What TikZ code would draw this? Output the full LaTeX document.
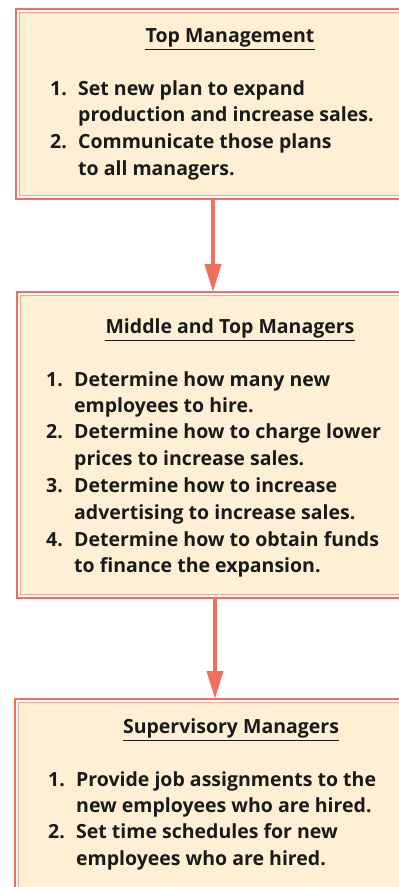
\documentclass[tikz,border=0pt]{standalone}
\usepackage{fontspec}
\setmainfont{Open Sans}
\usetikzlibrary{arrows.meta}
\definecolor{salmon}{HTML}{F07060}
\definecolor{salmonlt}{HTML}{F5A595}
\definecolor{cream}{HTML}{FFEFD5}
\definecolor{ink}{HTML}{1A1A1A}
\tikzset{
  outerbox/.style={draw=salmon, line width=2pt, fill=white, inner sep=0pt, anchor=north west},
  innerframe/.style={draw=salmonlt, line width=1.6pt, fill=cream},
  head/.style={font=\bfseries\fontsize{19.5}{21}\selectfont, text=ink, inner sep=0pt, anchor=base},
  txt/.style={font=\bfseries\fontsize{19.5}{21}\selectfont, text=ink, inner sep=0pt, anchor=base west},
  ul/.style={draw=ink, line width=1.8pt},
  arr/.style={draw=salmon, line width=4pt, -{Triangle[length=28pt, width=16pt]}, shorten >=-1pt},
}
\begin{document}
\begin{tikzpicture}[x=1pt, y=-1pt]
\useasboundingbox (0,0) rectangle (399,887);
% boxes
\node[outerbox, minimum width=410pt, minimum height=190pt] (b1) at (15,8) {};
\node[outerbox, minimum width=410pt, minimum height=306pt] (b2) at (16,291) {};
\node[outerbox, minimum width=410pt, minimum height=210pt] (b3) at (14,698) {};
\foreach \b in {b1,b2,b3}{
  \draw[innerframe] ([shift={(4.5pt,-4.5pt)}]\b.north west) rectangle ([shift={(-4.5pt,4.5pt)}]\b.south east);
}
% box 1
\node[head] (h1) at (230,42) {Top Management};
\draw[ul] ([yshift=-7.5pt]h1.base west) -- ([yshift=-7.5pt]h1.base east);
\node[txt] (n11) at (50,95) {1.};
\node[txt] (t11) at (78,95) {Set new plan to expand};
\node[txt] (t12) at (78,121.5) {production and increase sales.};
\node[txt] (n12) at (50,148) {2.};
\node[txt] (t13) at (78,148) {Communicate those plans};
\node[txt] (t14) at (78,175) {to all managers.};
% box 2
\node[head] (h2) at (230,333) {Middle and Top Managers};
\draw[ul] ([yshift=-7.5pt]h2.base west) -- ([yshift=-7.5pt]h2.base east);
\node[txt] (n21) at (46,386) {1.};
\node[txt] (t21) at (74,386) {Determine how many new};
\node[txt] (t22) at (74,412) {employees to hire.};
\node[txt] (n22) at (46,438.5) {2.};
\node[txt] (t23) at (74,438.5) {Determine how to charge lower};
\node[txt] (t24) at (74,465) {prices to increase sales.};
\node[txt] (n23) at (46,492) {3.};
\node[txt] (t25) at (74,492) {Determine how to increase};
\node[txt] (t26) at (74,519) {advertising to increase sales.};
\node[txt] (n24) at (46,546) {4.};
\node[txt] (t27) at (74,546) {Determine how to obtain funds};
\node[txt] (t28) at (74,572) {to finance the expansion.};
% box 3
\node[head] (h3) at (231,733) {Supervisory Managers};
\draw[ul] ([yshift=-7.5pt]h3.base west) -- ([yshift=-7.5pt]h3.base east);
\node[txt] (n31) at (48,786) {1.};
\node[txt] (t31) at (76,786) {Provide job assignments to the};
\node[txt] (t32) at (76,812) {new employees who are hired.};
\node[txt] (n32) at (48,838) {2.};
\node[txt] (t33) at (76,838) {Set time schedules for new};
\node[txt] (t34) at (76,865) {employees who are hired.};
% arrows
\draw[arr] ([xshift=198pt]b1.south west) -- ([xshift=197pt]b2.north west);
\draw[arr] ([xshift=199pt]b2.south west) -- ([xshift=201pt]b3.north west);
\end{tikzpicture}
\end{document}
